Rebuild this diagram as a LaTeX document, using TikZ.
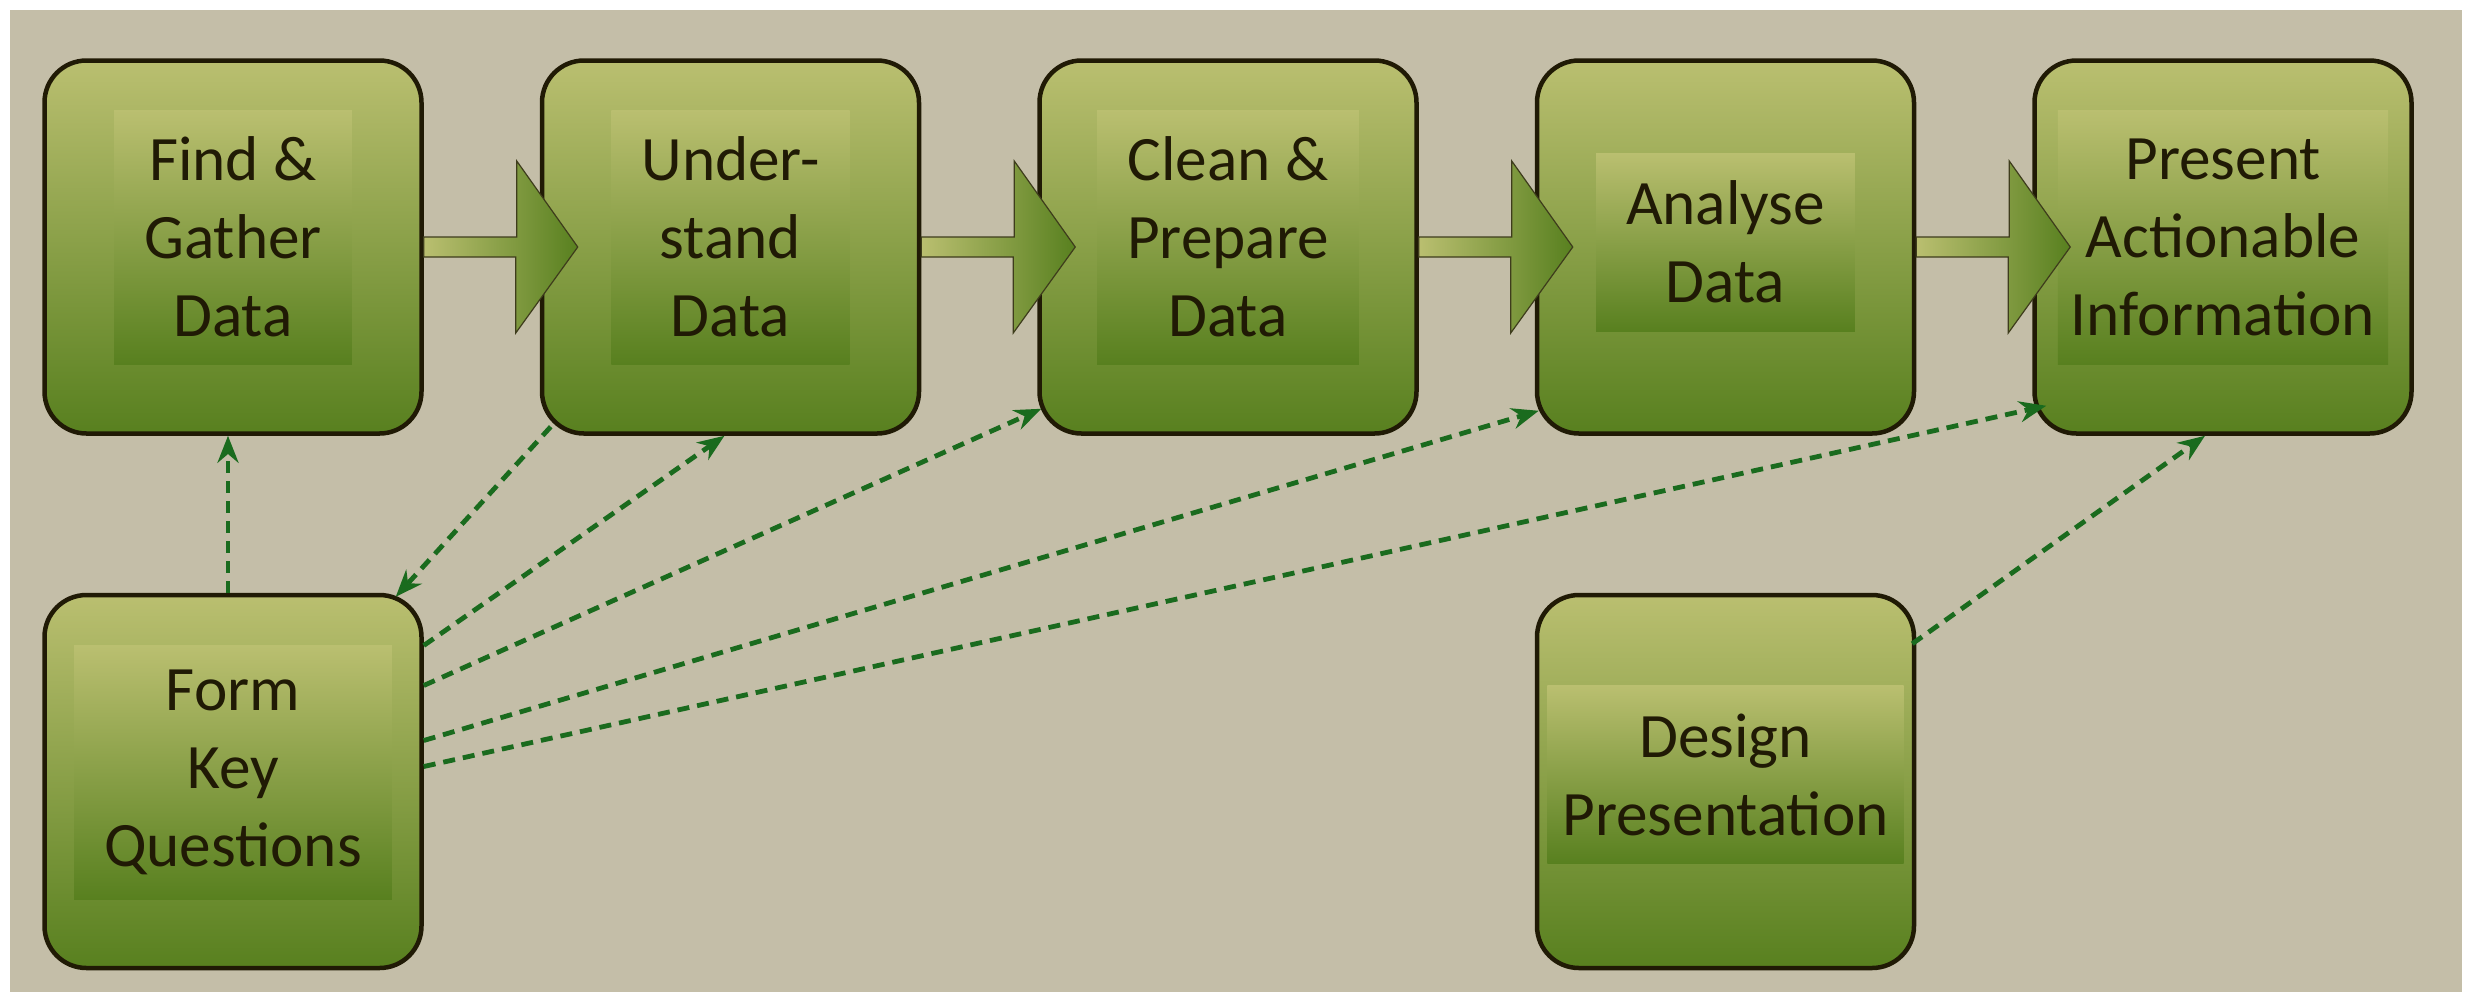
\documentclass[tikz,border=0pt]{standalone}
\usepackage{fontspec}
\setmainfont{Carlito}
\usetikzlibrary{positioning,arrows.meta}

\definecolor{bgcol}{RGB}{196,190,168}
\definecolor{boxtop}{RGB}{186,191,112}
\definecolor{boxbot}{RGB}{88,128,31}
\definecolor{ink}{RGB}{32,26,5}
\definecolor{linkcol}{RGB}{26,107,30}
\definecolor{arrowline}{RGB}{62,60,28}

\tikzset{
    stepbox/.style={draw=ink, line width=0.045cm, rounded corners=0.42cm,
        minimum width=3.77cm, minimum height=3.73cm, top color=boxtop, bottom color=boxbot},
    steplabel/.style={top color=boxtop, bottom color=boxbot, align=center, text=ink,
        inner xsep=0.3cm, minimum height=2.54cm,
        font=\fontsize{18}{22.2}\selectfont},
    shortlabel/.style={steplabel, minimum height=1.78cm},
    blockarrow/.style={draw=arrowline, line width=0.012cm, left color=boxtop, right color=boxbot},
    link/.style={draw=linkcol, line width=0.048cm, dash pattern=on 0.12cm off 0.08cm,
        -{Stealth[length=0.27cm,width=0.21cm]}}
}

\begin{document}
\begin{tikzpicture}
    \useasboundingbox[fill=white] (0,0) rectangle (24.70,-9.92);
    \fill[bgcol] (0.10,-0.10) rectangle (24.62,-9.92);

    % the five steps in a row
    \node[stepbox] (find) at (2.33,-2.47) {};
    \node[stepbox, right=1.16cm of find] (under) {};
    \node[stepbox, right=1.16cm of under] (clean) {};
    \node[stepbox, right=1.16cm of clean] (analyse) {};
    \node[stepbox, right=1.16cm of analyse] (present) {};
    \node[stepbox, below=1.57cm of find] (form) {};
    \node[stepbox, below=1.57cm of analyse] (design) {};

    \node[steplabel] (findt) at ([yshift=0.1cm]find.center) {Find \&\\Gather\\Data};
    \node[steplabel] (undert) at ([yshift=0.1cm]under.center) {Under-\\stand\\Data};
    \node[steplabel] (cleant) at ([yshift=0.1cm]clean.center) {Clean \&\\Prepare\\Data};
    \node[shortlabel] (analyset) at ([yshift=0.05cm]analyse.center) {Analyse\\Data};
    \node[steplabel, inner xsep=0.13cm] (presentt) at ([yshift=0.1cm]present.center) {Present\\Actionable\\Information};
    \node[steplabel] (formt) at ([yshift=0.09cm]form.center) {Form\\Key\\Questions};
    \node[shortlabel, inner xsep=0.15cm] (designt) at ([yshift=0.07cm]design.center) {Design\\Presentation};

    \foreach \a/\b in {find/under,under/clean,clean/analyse,analyse/present}{
        % shaft, then head, tip sits inside the next box
        \shadedraw[blockarrow] ([yshift=0.1cm]\a.east) -- ++(0.93,0) -- ++(0,0.76)
            -- ([xshift=0.38cm]\b.west) -- ++(-0.62,-0.86) -- ++(0,0.76)
            -- ([yshift=-0.1cm]\a.east) -- cycle;
    }

    \draw[link] ([xshift=-0.05cm]form.north) -- ([xshift=-0.05cm]find.south);
    \draw[link] ([shift={(0.11,0.09)}]under.south west) -- ([shift={(-0.28,-0.04)}]form.north east);
    \draw[link] ([yshift=1.36cm]form.east) -- ([xshift=-0.06cm]under.south);
    \draw[link] ([yshift=0.96cm]form.east) -- ([shift={(0.04,0.27)}]clean.south west);
    \draw[link] ([yshift=0.41cm]form.east) -- ([shift={(0.04,0.25)}]analyse.south west);
    \draw[link] ([yshift=0.15cm]form.east) -- ([shift={(0.14,0.30)}]present.south west);
    \draw[link] ([shift={(-0.04,-0.51)}]design.north east) -- ([xshift=-0.18cm]present.south);
\end{tikzpicture}
\end{document}
